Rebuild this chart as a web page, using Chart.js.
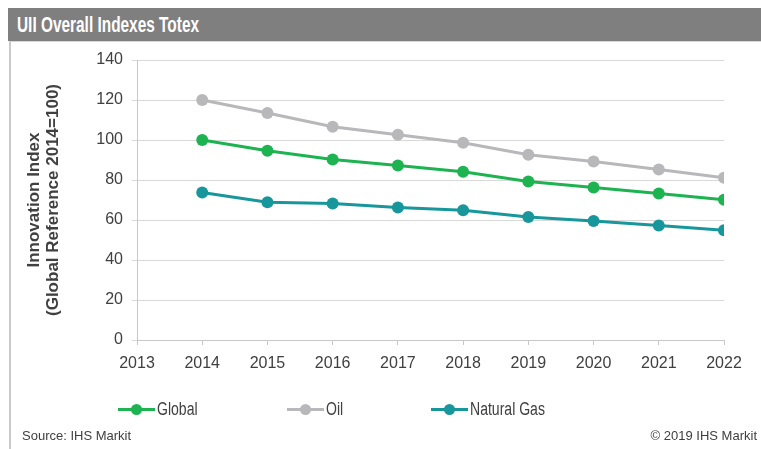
<!DOCTYPE html>
<html>
<head>
<meta charset="utf-8">
<title>UII Overall Indexes Totex</title>
<script src="https://cdn.jsdelivr.net/npm/chart.js@4/dist/chart.umd.min.js"></script>
<style>
  html, body { margin: 0; padding: 0; background: #fff; }
  body { width: 761px; height: 449px; position: relative; overflow: hidden; font-family: "Liberation Sans", Arial, sans-serif; color: #404040; }
  #titleBar { position: absolute; left: 8px; top: 8px; width: 753px; height: 33px; background: #7f7f7f; }
  #titleBar span { position: absolute; left: 9px; top: 4px; color: #fff; font-weight: bold; font-size: 22px; transform: scaleX(0.70); transform-origin: left center; white-space: nowrap; }
  #frame { position: absolute; left: 9px; top: 41px; width: 760px; height: 420px; border-left: 2px solid #c9c9c9; border-top: 1px solid #d6d6d6; }
  #chartWrap { position: absolute; left: 0; top: 0; width: 761px; height: 449px; }
  .legend-item { position: absolute; top: 399px; height: 20px; font-size: 18px; line-height: 20px; }
  .legend-item .swatch { position: absolute; left: 0; top: 9px; width: 37px; height: 3px; }
  .legend-item .dot { position: absolute; left: 13px; top: 5px; width: 11px; height: 11px; border-radius: 50%; }
  .legend-item .label { position: absolute; left: 39px; top: 0; white-space: nowrap; transform: scaleX(0.78); transform-origin: left center; }
  .footer { position: absolute; top: 428px; font-size: 13px; }
</style>
</head>
<body>
<div id="titleBar"><span>UII Overall Indexes Totex</span></div>
<div id="frame"></div>
<div id="chartWrap"><canvas id="uiiChart" width="761" height="449"></canvas></div>
<div id="legend"></div>
<div class="footer" style="left:22px">Source: IHS Markit</div>
<div class="footer" style="right:4px">© 2019 IHS Markit</div>

<script>
// index values per year (Global 2014 = 100)
const years = [2014, 2015, 2016, 2017, 2018, 2019, 2020, 2021, 2022];
const globalIdx = [100, 94.6, 90.3, 87.2, 84.1, 79.3, 76.3, 73.2, 70.1];
const oilIdx = [120, 113.5, 106.6, 102.6, 98.6, 92.6, 89.3, 85.2, 81.1];
const gasIdx = [73.7, 68.9, 68.3, 66.3, 64.9, 61.5, 59.5, 57.3, 54.9];
const seriesNames = ['Global', 'Oil', 'Natural Gas'];
const seriesColors = ['#1db350', '#b8b8bb', '#17979b'];
const legendLeft = [118, 287, 431];

function toPoints(vals) {
  return years.map((y, i) => ({ x: y, y: vals[i] }));
}

const datasets = [globalIdx, oilIdx, gasIdx].map((vals, i) => ({
  label: seriesNames[i],
  data: toPoints(vals),
  borderColor: seriesColors[i],
  backgroundColor: seriesColors[i],
  borderWidth: 3,
  pointRadius: 6,
  pointHoverRadius: 6,
  pointBorderWidth: 0,
  tension: 0
}));

// draw oil first so the greens sit on top
datasets.reverse();

const tickFont = { family: '"Liberation Sans", Arial, sans-serif', size: 16 };

new Chart(document.getElementById('uiiChart').getContext('2d'), {
  type: 'line',
  data: { datasets: datasets },
  options: {
    responsive: false,
    animation: false,
    layout: { padding: { left: 10, top: 60, right: 37, bottom: 74 } },
    plugins: { legend: { display: false }, tooltip: { enabled: false } },
    scales: {
      x: {
        type: 'linear',
        min: 2013,
        max: 2022,
        ticks: {
          stepSize: 1,
          color: '#404040',
          font: tickFont,
          padding: 9,
          callback: v => String(v)
        },
        grid: { drawOnChartArea: false, drawTicks: true, tickLength: 5, color: '#c8c8c8' },
        border: { color: '#c8c8c8', width: 1 },
        afterFit: s => { s.height = 35; }
      },
      y: {
        min: 0,
        max: 140,
        ticks: { stepSize: 20, color: '#404040', font: tickFont, padding: 9 },
        grid: { color: '#d9d9d9', tickLength: 5, lineWidth: 1 },
        border: { color: '#c8c8c8', width: 1 },
        title: {
          display: true,
          text: ['Innovation Index', '(Global Reference 2014=100)'],
          color: '#404040',
          font: { family: '"Liberation Sans", Arial, sans-serif', size: 17, weight: 'bold', lineHeight: 1.1 },
          padding: { top: 15, bottom: 0 }
        },
        afterFit: s => { s.width = 127; }
      }
    }
  }
});

// legend: short line with a dot, then the series name
const legend = document.getElementById('legend');
seriesNames.forEach((name, i) => {
  const item = document.createElement('div');
  item.className = 'legend-item';
  item.style.left = legendLeft[i] + 'px';
  item.innerHTML = '<div class="swatch" style="background:' + seriesColors[i] + '"></div>' +
    '<div class="dot" style="background:' + seriesColors[i] + '"></div>' +
    '<div class="label">' + name + '</div>';
  legend.appendChild(item);
});
</script>
</body>
</html>
